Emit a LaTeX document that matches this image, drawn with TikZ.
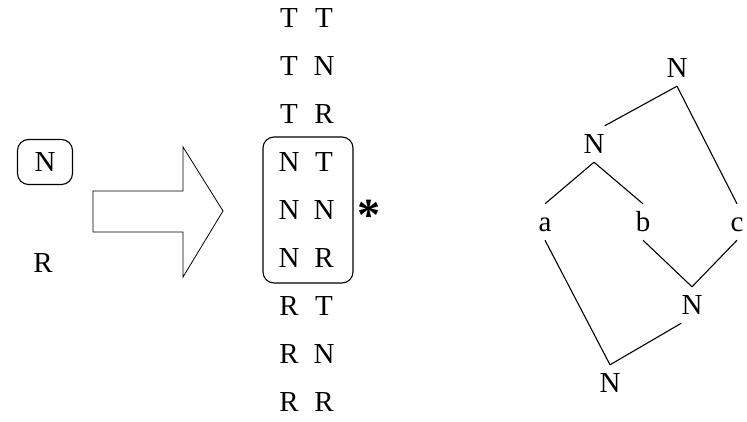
\documentclass[tikz,border=0pt]{standalone}
\usepackage{fontspec}
\setmainfont{Liberation Serif}

\tikzstyle{letter}=[text height=19pt,text depth=0pt,inner sep=0pt]
\tikzstyle{treenode}=[letter,minimum width=20pt,minimum height=36pt]
\tikzstyle{roundbox}=[draw,rounded corners=11pt,line width=1.1pt]
\tikzstyle{treeline}=[line width=1.1pt]
\tikzstyle{bigarrow}=[draw,line width=0.8pt]

\begin{document}
\begin{tikzpicture}[font=\fontsize{29pt}{34pt}\selectfont]

\useasboundingbox (0pt,0pt) rectangle (747pt,-422pt);

% left part
\node[letter,roundbox,minimum width=55pt,minimum height=45pt] (N0) at (45pt,-162pt) {N};
\node[letter] (R0) at (43pt,-263pt) {R};

\draw[bigarrow] (93pt,-191pt) -- (183pt,-191pt) -- (183pt,-147pt) -- (223pt,-211pt)
  -- (183pt,-277pt) -- (183pt,-232pt) -- (93pt,-232pt) -- cycle;

% pairs
\node[letter] (L1) at (289pt,-18pt) {T};  \node[letter] (R1) at (324pt,-18pt) {T};
\node[letter] (L2) at (289pt,-66pt) {T};  \node[letter] (R2) at (324pt,-66pt) {N};
\node[letter] (L3) at (289pt,-114pt) {T}; \node[letter] (R3) at (324pt,-114pt) {R};
\node[letter] (L4) at (289pt,-162pt) {N}; \node[letter] (R4) at (324pt,-162pt) {T};
\node[letter] (L5) at (289pt,-210pt) {N}; \node[letter] (R5) at (324pt,-210pt) {N};
\node[letter] (L6) at (289pt,-258pt) {N}; \node[letter] (R6) at (324pt,-258pt) {R};
\node[letter] (L7) at (289pt,-306pt) {R}; \node[letter] (R7) at (324pt,-306pt) {T};
\node[letter] (L8) at (289pt,-354pt) {R}; \node[letter] (R8) at (324pt,-354pt) {N};
\node[letter] (L9) at (289pt,-402pt) {R}; \node[letter] (R9) at (324pt,-402pt) {R};

\node[roundbox,minimum width=90pt,minimum height=146pt] (NBOX) at (308pt,-210pt) {};
\node[anchor=base,inner sep=0pt,font=\fontsize{46pt}{48pt}\selectfont\bfseries] (STAR) at (369pt,-231pt) {*};

% tree
\node[treenode] (T1) at (677pt,-68pt) {N};
\node[treenode] (T2) at (594pt,-144pt) {N};
\node[treenode] (TA) at (545pt,-222pt) {a};
\node[treenode] (TB) at (643pt,-222pt) {b};
\node[treenode] (TC) at (737pt,-222pt) {c};
\node[treenode] (T3) at (692pt,-305pt) {N};
\node[treenode] (T4) at (610pt,-383pt) {N};

\draw[treeline] (T1.south) -- (T2.north east);
\draw[treeline] (T1.south) -- (TC.north);
\draw[treeline] (T2.south) -- (TA.north);
\draw[treeline] (T2.south) -- (TB.north);
\draw[treeline] (TB.south) -- (T3.north);
\draw[treeline] (TC.south) -- (T3.north);
\draw[treeline] (TA.south) -- (T4.north);
\draw[treeline] (T4.north) -- (T3.south west);

\end{tikzpicture}
\end{document}
